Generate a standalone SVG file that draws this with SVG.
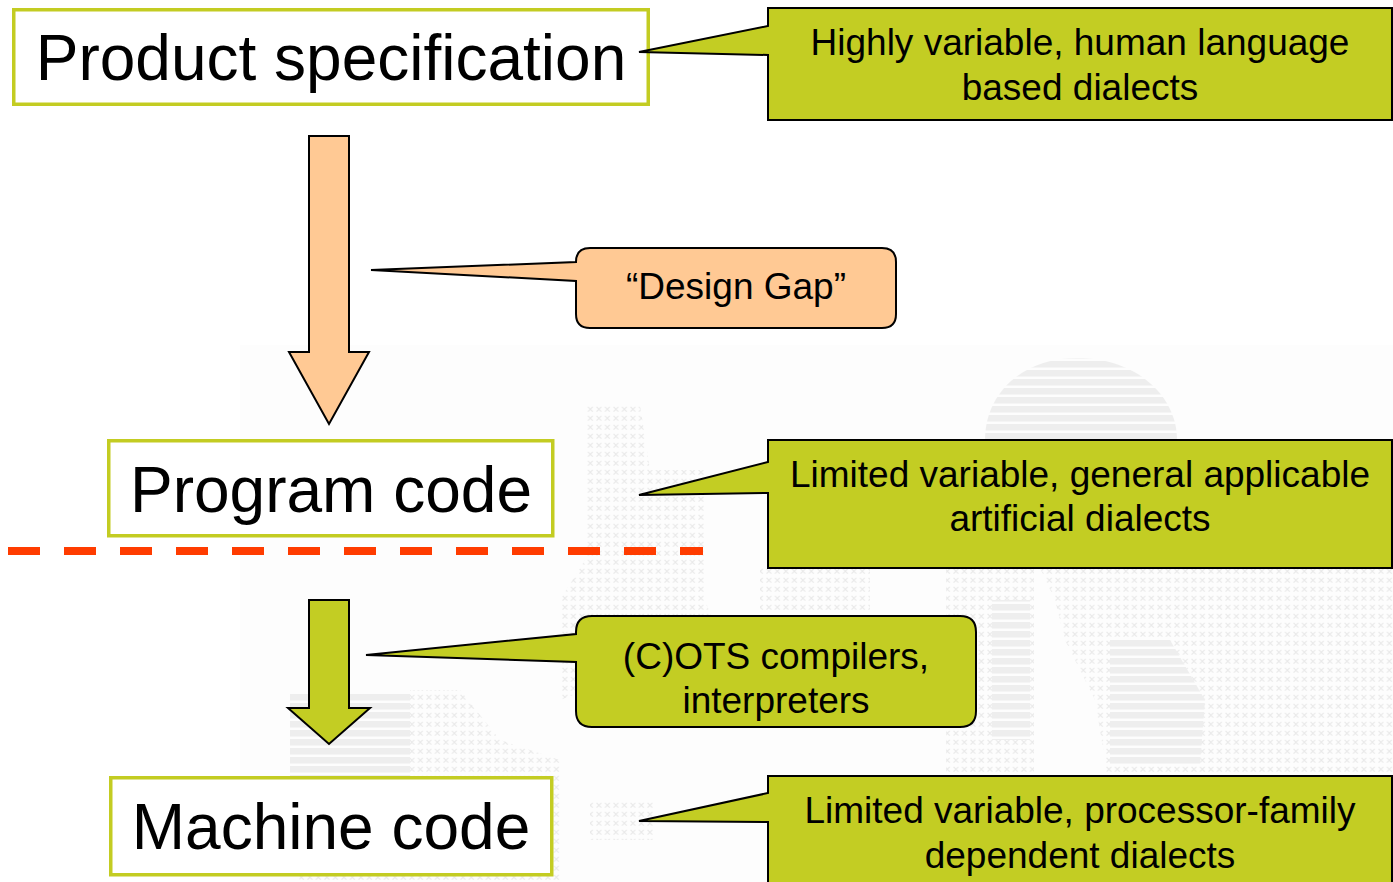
<svg xmlns="http://www.w3.org/2000/svg" width="1393" height="882" viewBox="0 0 1393 882">
  <defs>
    <style>
      .lbl { font-family: "Liberation Sans", Arial, Helvetica, sans-serif; fill: #000; text-anchor: middle; }
      .big { font-size: 64px; }
      .small { font-size: 37px; }
      .box { fill: #ffffff; stroke: #c3cc22; stroke-width: 3.5; }
      .callout-green { fill: #c3cd23; stroke: #000; stroke-width: 2; stroke-linejoin: miter; }
      .callout-peach { fill: #ffc994; stroke: #000; stroke-width: 2; stroke-linejoin: miter; }
      .arrow-peach { fill: #ffc994; stroke: #000; stroke-width: 2; }
      .arrow-green { fill: #c3cd23; stroke: #000; stroke-width: 2; }
      .divider { fill: none; stroke: #ff3c00; stroke-width: 8; stroke-dasharray: 32 24; }
    </style>
    <!-- halftone textures for the faint backdrop -->
    <pattern id="crosses" width="8.5" height="9" patternUnits="userSpaceOnUse">
      <path d="M1.5,1.8 L6.3,6.6 M6.3,1.8 L1.5,6.6" stroke="#dcdcdc" stroke-width="1.2" fill="none"/>
    </pattern>
    <pattern id="bars" width="10" height="9" patternUnits="userSpaceOnUse">
      <rect x="0" y="1" width="10" height="6.5" fill="#e4e4e4"/>
    </pattern>
  </defs>

  <rect width="1393" height="882" fill="#ffffff"/>

  <!-- faint halftone backdrop -->
  <g id="backdrop" opacity="0.6">
    <rect x="240" y="345" width="1153" height="537" fill="#fcfcfc"/>
    <path d="M985,440 C985,395 1020,358 1078,358 C1135,358 1177,395 1177,440 Z" fill="url(#bars)"/>
    <path d="M1040,568 L1393,568 L1393,882 L1120,882 L1105,760 L1095,700 L1065,640 L1055,600 Z" fill="url(#crosses)"/>
    <path d="M1110,640 L1170,640 L1205,700 L1200,765 L1110,765 Z" fill="url(#bars)"/>
    <rect x="946" y="568" width="88" height="212" fill="url(#crosses)"/>
    <rect x="992" y="600" width="38" height="140" fill="url(#bars)"/>
    <path d="M585,405 L640,405 L650,470 L705,470 L705,600 L720,640 L560,700 L560,600 L585,560 Z" fill="url(#crosses)"/>
    <rect x="760" y="568" width="110" height="44" fill="url(#crosses)"/>
    <rect x="290" y="692" width="120" height="130" fill="url(#bars)"/>
    <path d="M410,690 L460,690 L500,740 L560,760 L560,882 L300,882 L290,822 L410,822 Z" fill="url(#crosses)"/>
    <rect x="590" y="802" width="65" height="38" fill="url(#crosses)"/>
  </g>

  <!-- connectors: block arrows between the levels, and the divider -->
  <g id="connectors">
    <path class="arrow-peach" d="M309,136 H349 V352 H369 L329,424 L289,352 H309 Z"/>
    <path class="arrow-green" d="M309,600 H349 V708 H370 L329,744 L288,708 H309 Z"/>
    <line class="divider" x1="8" y1="551" x2="703" y2="551"/>
  </g>

  <!-- level boxes -->
  <g id="product-specification">
    <rect class="box" x="13.75" y="9.75" width="634.5" height="94.5"/>
    <text class="lbl big" x="331" y="80">Product specification</text>
  </g>

  <g id="program-code">
    <rect class="box" x="108.75" y="440.75" width="444" height="95"/>
    <text class="lbl big" x="331" y="512">Program code</text>
  </g>

  <g id="machine-code">
    <rect class="box" x="110.75" y="777.75" width="441" height="97"/>
    <text class="lbl big" x="331" y="849">Machine code</text>
  </g>

  <!-- callouts -->
  <g id="note-human-dialects">
    <path class="callout-green" d="M768,8 H1392 V120 H768 V55 L639,52 L768,26 Z"/>
    <text class="lbl small" x="1080" y="55">Highly variable, human language</text>
    <text class="lbl small" x="1080" y="100">based dialects</text>
  </g>

  <g id="note-design-gap">
    <path class="callout-peach" d="M590,248 H882 Q896,248 896,262 V314 Q896,328 882,328 H590 Q576,328 576,314 V281 L371,270 L576,262 Q576,248 590,248 Z"/>
    <text class="lbl small" x="736" y="299">“Design Gap”</text>
  </g>

  <g id="note-artificial-dialects">
    <path class="callout-green" d="M768,440 H1392 V568 H768 V493 L639,495 L768,462 Z"/>
    <text class="lbl small" x="1080" y="487">Limited variable, general applicable</text>
    <text class="lbl small" x="1080" y="531">artificial dialects</text>
  </g>

  <g id="note-compilers">
    <path class="callout-green" d="M592,616 H960 Q976,616 976,632 V711 Q976,727 960,727 H592 Q576,727 576,711 V662 L366,655 L576,634 V632 Q576,616 592,616 Z"/>
    <text class="lbl small" x="776" y="669">(C)OTS compilers,</text>
    <text class="lbl small" x="776" y="713">interpreters</text>
  </g>

  <g id="note-processor-dialects">
    <path class="callout-green" d="M768,776 H1392 V892 H768 V822 L639,821 L768,793 Z"/>
    <text class="lbl small" x="1080" y="823">Limited variable, processor-family</text>
    <text class="lbl small" x="1080" y="868">dependent dialects</text>
  </g>
</svg>
